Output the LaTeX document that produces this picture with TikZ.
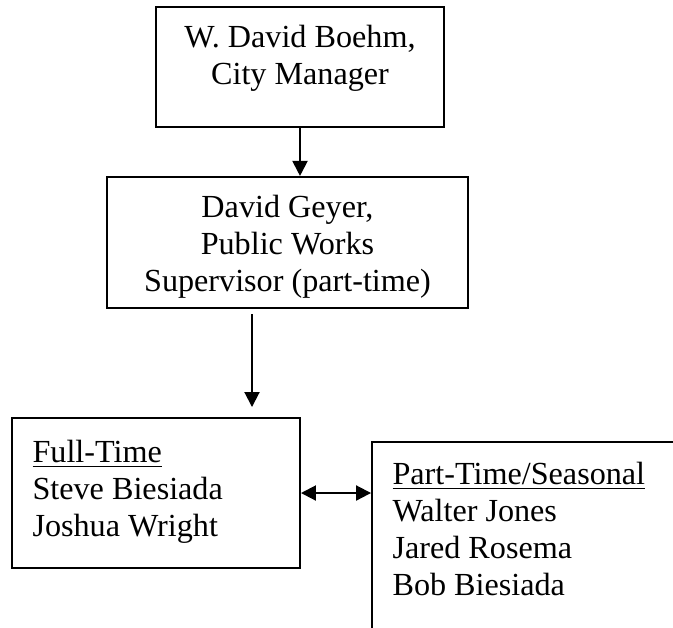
\documentclass[tikz,border=0pt]{standalone}
\usepackage{fontspec}
\setmainfont{Liberation Serif}
\usetikzlibrary{arrows.meta}

\begin{document}
\begin{tikzpicture}[x=0.373pt,y=0.373pt,yscale=-1,xscale=1,
	box/.style={draw,line width=0.75pt,inner sep=0pt},
	txt/.style={inner sep=0pt,font=\fontsize{12}{13.8}\selectfont},
	arr/.style={line width=0.75pt,-{Triangle[length=5.6pt,width=5.6pt]}},
	dbl/.style={line width=0.75pt,{Triangle[length=5.6pt,width=5.6pt]}-{Triangle[length=5.6pt,width=5.6pt]}}]
	\useasboundingbox (0,0) rectangle (673,627);
	\node [box,minimum width=107.4pt,minimum height=44.8pt] (mgr) at (300,67) {};
	\node [box,minimum width=134.7pt,minimum height=48.9pt] (sup) at (287.5,242.5) {};
	\node [box,minimum width=107.4pt,minimum height=56pt] (full) at (156,493) {};
	\node [box,minimum width=122.3pt,minimum height=88.8pt] (part) at (536,561) {};
	\node [txt,anchor=north,align=center] (mgrtxt) at (300,25) {W. David Boehm,\\City Manager};
	\node [txt,anchor=north,align=center] (suptxt) at (287.5,195) {David Geyer,\\Public Works\\Supervisor (part-time)};
	\node [txt,anchor=north west,align=left] (fulltxt) at (32,440) {\underline{Full-Time}\\Steve Biesiada\\Joshua Wright};
	\node [txt,anchor=north west,align=left] (parttxt) at (392,462) {\underline{Part-Time/Seasonal}\\Walter Jones\\Jared Rosema\\Bob Biesiada};
	\coordinate (drop) at (252,0);
	\draw [arr] (mgr.south) -- (mgr.south |- sup.north);
	\draw [arr] ([yshift=1.9pt]sup.south -| drop) -- ([yshift=-3.7pt]full.north -| drop);
	\draw [dbl] (full.east) -- (full.east -| part.west);
\end{tikzpicture}
\end{document}
